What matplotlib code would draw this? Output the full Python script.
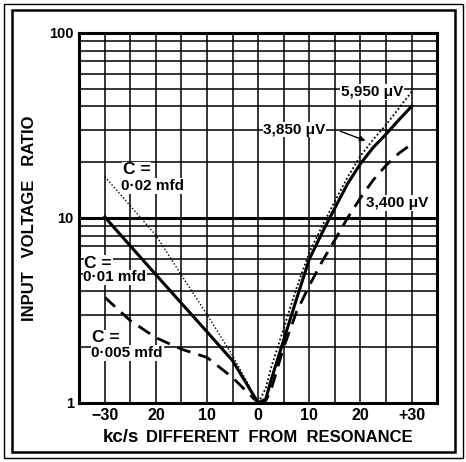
import numpy as np
import matplotlib.pyplot as plt
from matplotlib.patches import Rectangle

plt.rcParams['font.family'] = ['Liberation Sans', 'DejaVu Sans']

# ------------------------------
# Data
# ------------------------------
# kc/s off resonance (negative = below resonance)
x_left = [-30, -25, -20, -15, -10, -5, -2.5, 0]
x_right = [0, 1.5, 2.5, 5, 7.5, 10, 12.5, 15, 17.5, 20, 22.5, 25, 27.5, 30]

# C = 0.02 mfd / 5,950 uV  (dotted)
c002_left = [16.7, 11.6, 8.05, 4.9, 3.0, 1.8, 1.35, 1.0]
c002_right = [1.0, 1.2, 1.54, 2.53, 4.17, 6.5, 9.0, 12.3, 16.6, 21.6, 26.5, 31.8, 39, 48]

# C = 0.01 mfd / 3,850 uV  (solid)
c001_left = [10.1, 7.05, 4.93, 3.45, 2.42, 1.69, 1.3, 1.0]
c001_right = [1.0, 1.05, 1.32, 2.19, 3.64, 5.97, 8.3, 11.3, 15.3, 19.6, 24.0, 28.3, 33.8, 40]

# C = 0.005 mfd / 3,400 uV  (dashed)
c0005_left = [3.72, 2.78, 2.25, 1.95, 1.76, 1.37, 1.17, 1.0]
c0005_right = [1.0, 1.03, 1.17, 2.0, 3.1, 4.3, 5.8, 7.6, 10.0, 12.8, 16.0, 19.2, 22.3, 25]

xtick_pos = [-30, -20, -10, 0, 10, 20, 30]
xtick_lab = ["\u221230", "20", "10", "0", "10", "20", "+30"]

# ------------------------------
# Plotting
# ------------------------------
fig = plt.figure(figsize=(4.66, 4.62), dpi=100)
ax = fig.add_axes([0.170, 0.128, 0.768, 0.801])

ax.set_yscale('log')
ax.set_xlim(-35, 35)
ax.set_ylim(1, 100)

# grid: every 5 kc/s, every 1-2-3... on the log scale
for xv in np.arange(-30, 31, 5):
    ax.axvline(xv, color='black', lw=1.1, zorder=1)
for dec in [1, 10]:
    for m in range(2, 10):
        ax.axhline(dec * m, color='black', lw=1.1, zorder=1)
ax.axhline(10, color='black', lw=2.2, zorder=1)

ax.plot(x_left, c002_left, color='black', lw=1.0, ls=(0, (1, 1.5)), zorder=5)
ax.plot(x_right, c002_right, color='black', lw=1.3, ls=(0, (1, 1.3)), zorder=5)
ax.plot(x_left, c001_left, color='black', lw=2.2, zorder=5)
ax.plot(x_right, c001_right, color='black', lw=2.2, zorder=5)
ax.plot(x_left, c0005_left, color='black', lw=2.0, ls=(0, (5, 3)), zorder=5)
ax.plot(x_right, c0005_right, color='black', lw=2.0, ls=(0, (5, 3)), zorder=5)

for s in ax.spines.values():
    s.set_linewidth(2.2)

ax.set_xticks(xtick_pos)
ax.set_xticklabels(xtick_lab, fontsize=11.5, fontweight='bold')
ax.set_yticks([1, 10, 100])
ax.set_yticklabels(["1", "10", "100"], fontsize=10.5, fontweight='bold')
ax.minorticks_off()
ax.tick_params(length=0, pad=4)

ax.set_ylabel("INPUT   VOLTAGE   RATIO", fontsize=12, fontweight='bold', labelpad=9)
ax.set_xlabel("", labelpad=0)
fig.text(0.220, 0.054, "kc/s", fontsize=13.5, fontweight='bold', ha='left', va='center')
fig.text(0.885, 0.054, "DIFFERENT  FROM  RESONANCE", fontsize=12, fontweight='bold',
         ha='right', va='center')

box = dict(facecolor='white', edgecolor='none', pad=0.5)
tkw = dict(ha='left', va='center', bbox=box, zorder=4, fontweight='bold')
ax.text(-26.5, 18.2, "C =", fontsize=12.5, **tkw)
ax.text(-26.8, 14.9, "0\u00b702 mfd", fontsize=11, **tkw)
ax.text(-34.0, 5.67, "C =", fontsize=12.5, **tkw)
ax.text(-34.2, 4.76, "0\u00b701 mfd", fontsize=11, **tkw)
ax.text(-32.5, 2.25, "C =", fontsize=12.5, **tkw)
ax.text(-32.6, 1.86, "0\u00b7005 mfd", fontsize=11, **tkw)

ax.text(28.3, 47.8, "5,950 \u03bcV", fontsize=11, ha='right', va='center',
        bbox=box, zorder=4, fontweight='bold')
ax.text(1.0, 30.0, "3,850 \u03bcV", fontsize=11, **tkw)
ax.text(21.1, 12.0, "3,400 \u03bcV", fontsize=11, **tkw)
ax.annotate("", xy=(21.5, 25.8), xytext=(15.6, 29.7),
            arrowprops=dict(arrowstyle='-|>', color='black', lw=1.0, mutation_scale=8), zorder=6)

# outer frame
fig.patches.append(Rectangle((0.026, 0.022), 0.950, 0.956, transform=fig.transFigure,
                             fill=False, lw=1.8, edgecolor='black'))
fig.patches.append(Rectangle((0.008, 0.008), 0.985, 0.983, transform=fig.transFigure,
                             fill=False, lw=1.0, edgecolor='black'))

fig.savefig("out.png", dpi=100)
